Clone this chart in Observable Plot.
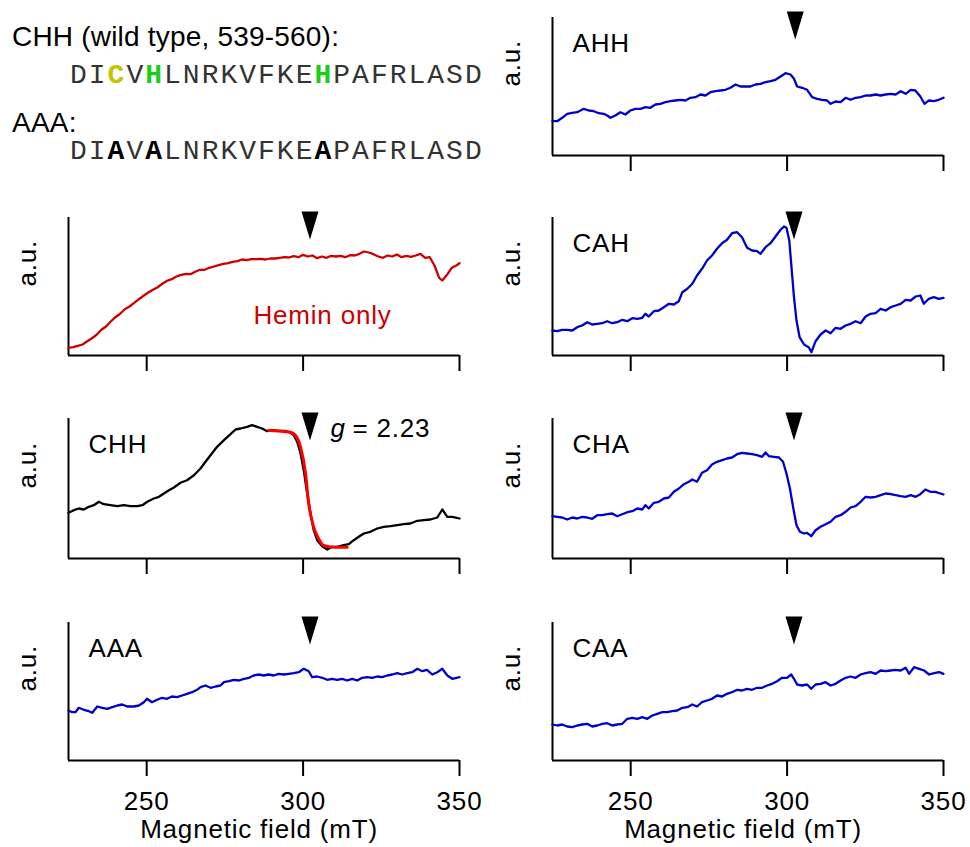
<!DOCTYPE html>
<html><head><meta charset="utf-8">
<script src="https://cdn.jsdelivr.net/npm/d3@7"></script>
<script src="https://cdn.jsdelivr.net/npm/@observablehq/plot@0.6"></script>
<style>
html,body{margin:0;padding:0;background:#fff;}
body{width:970px;height:847px;position:relative;overflow:hidden;font-family:"Liberation Sans",Arial,Helvetica,sans-serif;}
.abs{position:absolute;}
.hdr{font-size:28px;line-height:28px;white-space:pre;color:#000;letter-spacing:0.2px;}
.seq{font-family:"Liberation Mono","Courier New",monospace;font-size:28px;line-height:28px;white-space:pre;color:#333;letter-spacing:2px;}
.seq b{font-weight:bold;}
</style></head><body>
<script>
// ---------- data ----------
const fieldDomain = [225, 350];
const fieldTicks = [250, 300, 350];
const xLabel = "Magnetic field (mT)";
const yLabel = "a.u.";

const headerWT = "CHH (wild type, 539-560):";
const headerMut = "AAA:";
const seqWT = "DICVHLNRKVFKEHPAFRLASD";
const seqMut = "DIAVALNRKVFKEAPAFRLASD";
const sitePositions = [2, 4, 13];

const heminX = [225,226.5,228,229.5,231,232.5,234,235.5,237,238.5,240,241.5,243,244.5,246,247.5,249,250.5,252,253.5,255,256.5,258,259.5,261,262.5,264,265.5,267,268.5,270,271.5,273,274.5,276,277.5,279,280.5,282,283.5,285,286.5,288,289.5,291,292.5,294,295.5,297,298.5,300,301.5,303,304.5,306,307.5,309,310.5,312,313.5,315,316.5,318,319.5,321,322.5,324,325.5,327,328.5,330,331.5,333,334.5,336,337.5,339,340.5,342,343.5,344.5,346,347.5,349,350];
const heminY = [7.7,8.3,9.7,11,14.3,17.3,20.7,25.7,29,34,38.3,41.7,46.3,49,52.7,56.3,59.7,63,65.7,68.3,71.7,74.7,76.3,79,80.7,81.7,81.3,83.7,85.7,85.7,87.7,89,90.3,91.7,92.3,93.7,94.3,96,95.3,96.3,96.3,96.7,96,97,97,97.7,98.3,98,99.3,98.3,100.7,99,100,97.3,99,97.7,99.7,99,99.7,98.3,100.3,100,101.7,104,103,101.3,99,97.7,100,99,101,98.3,99.7,98.7,100,101.7,97.7,98.3,90,77.7,75,80.7,87.7,90,92.3];

const chhX = [225,226.7,228.3,229.9,231.5,233.1,234.7,236.3,238.4,240.6,242.7,244.8,247,248.6,250.2,252.3,253.9,255.5,257.1,258.7,260.8,262.9,265.1,267.2,268.8,270.4,272.5,274.7,276.8,278.4,280,282.1,283.7,285.3,286.9,288.5,290.1,292.2,294.4,296,297,298.1,299.2,300.2,301.3,302.4,303.4,304.5,306.1,307.7,309.3,310.9,313,314.6,316.2,317.8,319.4,321.5,323.7,325.8,327.9,330.1,332.2,334.3,336.5,338.6,340.7,342.9,344.5,346.1,347.7,350];
const chhY = [45.7,48.3,50,49,51.7,53.3,56.7,54.3,53.3,52.3,53.3,52.3,52.3,53.3,56.7,60,61.7,65,68.3,71,75.7,78.3,83.3,90,96.7,103.3,111.7,118.3,124.3,129,130,131.7,133.3,131.7,130,127.3,128.3,127.7,127.7,125.7,123.3,116.7,105,88.3,65,45,28.3,18.3,12.3,9,11.7,11.7,13.3,14.3,18.3,21.7,25,26.7,30,31.7,32.3,33.3,34.3,35,37.7,38.3,39,41,49,41.7,41.7,40];
const chhFitX = [289,292,296,297.6,299.2,300.8,301.8,303.4,305,306.6,309.8,314.1];
const chhFitY = [128,127.5,126.3,123,111.3,84.7,54.7,31.3,19.7,13,11.3,11.3];

const aaaX = [225,226.2,227.2,228.3,229.9,231.5,232.6,234.2,235.8,237.4,239,240.6,242.2,243.8,245.9,247.5,249.1,250.1,251.7,253.3,254.9,256.5,258.1,259.7,261.3,262.9,264.5,266.1,267.2,268.8,270.4,272,273.6,274.7,276.3,277.9,279.5,281.1,282.7,284.2,285.8,287.4,289,290.6,292.2,293.8,295.4,297,298.6,300.2,301.8,302.9,304.5,306.1,307.7,309.3,310.9,312.5,314.1,315.7,317.3,318.9,320.5,322.1,323.7,325.3,326.9,328.5,330.1,331.7,333.3,334.9,336.5,338.1,339.6,341.3,342.9,344.5,346.1,347.7,350];
const aaaY = [50,48.3,48.3,52.7,50.7,49.3,47.7,54,52.7,51.7,53.3,55,56,54,54,55,58.3,61.7,58.3,60.7,62.7,61.7,64,63.3,65,66.7,68.3,70.7,73.3,75,72.7,74,75,78.3,79.3,80.7,80,81.7,82.7,85,86,85,86,85,86.7,86,86.7,87.3,88.3,91.7,89.3,83.3,84,82.7,80.7,81.7,80.7,81.7,80,81.7,80,82.7,83.3,82.7,84,83.3,85,86,87.3,86,87.3,88.3,91.7,89.3,90.7,86,88.3,91.7,85,81.7,83.3];

const ahhX = [225,226.5,228.1,229.7,231.3,232.9,235,236.6,238.2,239.8,241.4,242.5,243.5,245.1,246.7,248.3,249.9,251.5,253.1,254.7,256.3,257.9,259.5,261.1,262.7,264.3,265.9,267.5,269.1,270.7,272.3,273.9,275.5,277.1,278.7,280.3,281.9,283.5,285.1,286.7,288.3,289.9,291.5,293.1,294.7,296.3,297.9,299.5,301.1,302.2,303.2,304.8,306.4,308,309.6,311.2,312.8,313.9,315.5,317.1,318.7,320.3,321.9,323.5,325.1,326.7,328.3,329.9,331.5,333.1,334.7,336.3,337.9,339.5,341,342.6,343.9,345.3,346.9,348.5,350];
const ahhY = [34.3,34.3,37.7,41.7,42.7,43.3,46.7,45,44.3,42.3,41.7,40,37.7,40,43.3,41,45,46.7,46.7,48.3,47.7,51,51.7,53.3,54.3,55,55.7,55,57.7,58.3,61,60,63.3,64.3,65,65.7,67.7,71,69,69,69,71,71.7,73.3,74.3,75.7,79,82.3,81,76.7,69,67.7,65.7,58.3,56.7,55.7,55,51.7,54,53.3,57.7,55.7,57.7,58.3,60,60,61,60,61,61.7,61,64.3,61.7,65.7,65,59,51.7,55,54.3,55.7,57.7];

const cahX = [225,226.5,228.1,229.7,231.3,232.9,234.5,236.1,237.7,239.3,240.9,242.5,244.1,245.7,247.3,248.9,250.5,252.1,253.7,254.7,255.8,257.4,259,260.6,262.2,263.8,265.4,266.5,268.1,269.7,271.2,272.8,274.4,276,277.6,279.2,280.8,282.4,284,285.6,287.2,288.8,290.4,291.5,293.1,294.7,296.3,297.9,299,299.8,300.7,301.4,302.2,303,304,305.4,306.9,307.8,309.1,310.7,312.3,313.9,315.5,317.1,318.7,320.3,321.9,323.5,325.1,326.7,328.3,329.9,331.5,333.1,334.7,336.3,337.9,339.5,341.1,342.6,343.7,345.3,346.9,348.5,350];
const cahY = [25,24.3,25.7,25.7,25,28.3,30,33.3,31,31.7,32.3,34.3,32.3,33.3,35.7,34.3,37.3,36.7,37.7,41.7,39,44.3,45,48.3,51.7,51,54.3,63.3,66.7,71.7,80,86.7,95,100,106.7,112.3,115.7,122.3,123.3,118.3,107.7,105,104.3,101.7,108.3,112.3,119,125.7,129,127.7,115,88.3,58.3,35,18.3,11,8.3,3.3,14.3,21,25,22.3,27.7,26.7,30,31.7,34.3,32.3,39,41.7,42.3,46.7,45,48.3,50,51.7,55.7,55,59,60,51.7,56.7,58.3,56.7,57.7];

const chaX = [225,226.5,228.1,229.7,231.3,232.9,234.5,236.1,237.7,239.3,240.9,242.5,244.1,245.7,247.3,248.9,250.5,252.1,253.7,254.7,255.8,257.4,259,260.6,262.2,263.8,265.4,267,268.6,269.7,271.2,272.8,274.4,276,277.6,279.2,280.8,282.4,284,285.6,287.2,288.8,290.4,292,293.1,294.2,295.8,297.4,298.7,299.8,300.9,301.9,303,304.1,305.4,306.4,307.7,309.1,310.7,312.3,313.9,315.5,317.1,318.7,320.3,321.9,323.5,325.1,326.7,328.3,329.9,331.5,333.1,334.7,336.3,337.9,339.5,341.1,342.6,344.2,345.8,347.4,349,350];
const chaY = [42.3,41.7,41,39,41,40,41.7,41,39.7,43.3,43.3,44.3,45,42.3,44.3,46.3,47.3,50,49,53.3,50,55.7,56.7,60,61,66.7,70,74.3,76.7,79,76.7,85.7,88.3,94,96.7,98.3,100,101,104.3,105.7,105,104.3,103.3,101.7,106,102.3,101.7,101,96.7,85,70,51.7,33.3,26.7,25,25.7,22.3,28.3,31.7,34.3,36.7,41.7,43.3,46.7,51,52.3,56.7,61.7,61,61.7,63.3,65,64.3,63.3,62.3,61.7,63.3,61.7,64.3,69,66.7,66.7,65,64];

const caaX = [225,226.5,228.1,229.7,231.3,232.9,234.5,236.1,237.7,239.3,240.9,242.5,244.1,245.7,247.3,248.9,250.5,252.1,253.7,255.3,256.9,258.5,260.1,261.7,263.3,264.9,266.5,268.1,269.7,271.2,272.8,274.4,276,277.6,279.2,280.8,282.4,284,285.6,287.2,288.8,290.4,292,293.6,295.2,296.8,298.4,300,301.3,302.2,303.2,304.8,306.4,307.7,309.1,310.7,312.3,313.9,315.5,317.1,318.7,320.3,321.9,323.5,325.1,326.7,328.3,329.9,331.5,333.1,334.7,336.3,337.9,339,340.6,342.2,343.8,345.4,347,348.6,350];
const caaY = [36,35,36,34,33.3,35,36,36.7,34,35,36.7,37.3,35,36,36.7,41.7,42.7,41.7,43.3,41.7,45,46.7,48.3,48.3,49.3,50,52.7,53.3,56,54,58.3,60,61.7,65,64,66.7,68.3,70.7,70,71.7,70.7,72.7,72.7,75,76.7,79.3,82.7,82.7,86,81.7,76,75,76,71.7,76,76.7,78.3,75,76.7,80,82.7,84,82.7,86,87.3,88.3,86.7,90,89.3,90,90.7,90,92.7,86.7,93.3,91.7,90,86,87.3,88.3,86.7];

const sampleLabels = ["Hemin only", "CHH", "AAA", "AHH", "CAH", "CHA", "CAA"];
const arrowFields = [302.2, 302.2, 302.2, 302.6, 302.2, 302.2, 302.2];
const gLabel = ["g", "= 2.23"];

// ---------- header ----------
function addDiv(cls, left, top, html) {
  const d = document.createElement("div");
  d.className = "abs " + cls;
  d.style.left = left + "px"; d.style.top = top + "px";
  d.innerHTML = html;
  document.body.appendChild(d);
}
const wtColors = {C: "#c4c400", H: "#1ecc1e"};
function seqHTML(seq, colorFor) {
  return [...seq].map((c, i) => sitePositions.includes(i)
    ? `<b style="color:${colorFor(c)}">${c}</b>` : c).join("");
}
addDiv("hdr", 12, 23, headerWT);
addDiv("seq", 70, 61.5, seqHTML(seqWT, c => wtColors[c] || "#000"));
addDiv("hdr", 12, 109, headerMut);
addDiv("seq", 70, 137.5, seqHTML(seqMut, () => "#000"));

// ---------- panels ----------
const arrowSymbol = {draw(ctx) { ctx.moveTo(-8.5, -14); ctx.lineTo(8.5, -14); ctx.lineTo(0, 14); ctx.closePath(); }};
const RED = "#cc0000", BLUE = "#0000cc", BLACK = "#000";

const panels = [
  {i: 0, col: 0, top: 217, bottom: 355, x: heminX, y: heminY, color: RED, labelMode: "hemin"},
  {i: 1, col: 0, top: 418, bottom: 558, x: chhX, y: chhY, color: BLACK, fit: true},
  {i: 2, col: 0, top: 622, bottom: 760, x: aaaX, y: aaaY, color: BLUE, bottomAxis: true},
  {i: 3, col: 1, top: 17, bottom: 155, x: ahhX, y: ahhY, color: BLUE},
  {i: 4, col: 1, top: 217, bottom: 355, x: cahX, y: cahY, color: BLUE},
  {i: 5, col: 1, top: 418, bottom: 558, x: chaX, y: chaY, color: BLUE},
  {i: 6, col: 1, top: 622, bottom: 760, x: caaX, y: caaY, color: BLUE, bottomAxis: true},
];

for (const p of panels) {
  const H = p.bottom - p.top;
  const mt = 10, mb = p.bottomAxis ? 86 : 20;
  const left = p.col === 0 ? 0 : 484;
  const W = p.col === 0 ? 480 : 486;
  const ml = 68, mr = p.col === 0 ? 21 : 27;
  const data = p.x.map((x, k) => ({x, y: p.y[k]}));
  const marks = [
    Plot.ruleX([fieldDomain[0]], {stroke: "#000", strokeWidth: 2}),
    Plot.ruleY([0], {stroke: "#000", strokeWidth: 2}),
    Plot.axisX({ticks: fieldTicks, tickSize: 16, tickPadding: 15, strokeWidth: 2,
      tickFormat: p.bottomAxis ? (d => String(d)) : (() => ""), label: null}),
    Plot.text([yLabel], {text: d => d, frameAnchor: "left", dx: -41, rotate: -90, lineAnchor: "middle"}),
    Plot.line(data, {x: "x", y: "y", stroke: p.color, strokeWidth: 2.3, strokeLinejoin: "round"}),
    Plot.dot([arrowFields[p.i]], {x: d => d, frameAnchor: "top", dy: 8, symbol: arrowSymbol, fill: "#000", stroke: "none"}),
  ];
  if (p.labelMode === "hemin") {
    marks.push(Plot.text([sampleLabels[p.i]], {text: d => d, frameAnchor: "top-left", dx: 185, dy: 106, lineAnchor: "bottom", textAnchor: "start", fill: RED}));
  } else {
    marks.push(Plot.text([sampleLabels[p.i]], {text: d => d, frameAnchor: "top-left", dx: 20, dy: 34.5, lineAnchor: "bottom", textAnchor: "start"}));
  }
  if (p.fit) {
    const fit = chhFitX.map((x, k) => ({x, y: chhFitY[k]}));
    marks.push(Plot.line(fit, {x: "x", y: "y", stroke: "#ff0000", strokeWidth: 3, curve: "monotone-x"}));
    marks.push(Plot.text([gLabel[0]], {text: d => d, frameAnchor: "top-left", dx: 262, dy: 18.7, lineAnchor: "bottom", textAnchor: "start", fontStyle: "italic"}));
    marks.push(Plot.text([gLabel[1]], {text: d => d, frameAnchor: "top-left", dx: 284, dy: 18.7, lineAnchor: "bottom", textAnchor: "start"}));
  }
  if (p.bottomAxis) {
    marks.push(Plot.text([xLabel], {text: d => d, frameAnchor: "bottom", dx: -5, dy: 77, lineAnchor: "bottom"}));
  }
  const svg = Plot.plot({
    width: W, height: mt + H + mb,
    marginLeft: ml, marginRight: mr, marginTop: mt, marginBottom: mb,
    x: {domain: fieldDomain},
    y: {domain: [0, H], axis: null},
    style: {fontFamily: '"Liberation Sans", Arial, Helvetica, sans-serif', fontSize: "26px", letterSpacing: "0.8px", color: "#000", background: "transparent", overflow: "visible"},
    marks
  });
  const d = document.createElement("div");
  d.className = "abs";
  d.style.left = left + "px"; d.style.top = (p.top - mt) + "px";
  d.style.width = W + "px";
  d.appendChild(svg);
  document.body.appendChild(d);
}
</script>
</body></html>
